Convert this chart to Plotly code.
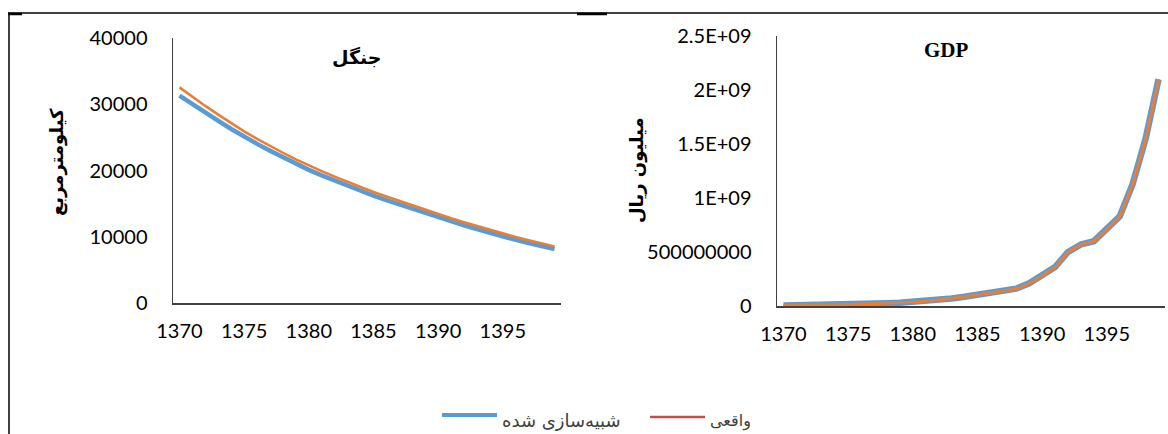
import plotly.graph_objects as go

# ---------------- data ----------------
years = list(range(1370, 1400))

forest_simulated = [31300, 29980, 28700, 27480, 26270, 25100, 24020, 22980, 21990, 21030,
                    20100, 19270, 18470, 17690, 16930, 16200, 15540, 14880, 14220, 13560,
                    12900, 12300, 11720, 11150, 10570, 10000, 9520, 9050, 8590, 8150]
forest_actual = [32550, 31130, 29750, 28440, 27150, 25910, 24780, 23700, 22680, 21690,
                 20740, 19890, 19070, 18280, 17500, 16760, 16070, 15400, 14750, 14070,
                 13400, 12790, 12200, 11620, 11030, 10450, 9960, 9480, 9010, 8550]

gdp_simulated = [4e6, 5e6, 7e6, 9e6, 1.2e7, 1.5e7, 1.8e7, 2.1e7, 2.5e7, 3.0e7,
                 3.7e7, 4.5e7, 5.8e7, 7.0e7, 8.5e7, 1.05e8, 1.25e8, 1.45e8, 1.6e8, 2.1e8,
                 2.8e8, 3.6e8, 5.0e8, 5.7e8, 6.0e8, 7.1e8, 8.3e8, 1.13e9, 1.55e9, 2.1e9]
gdp_actual = [4e6, 5e6, 7e6, 9e6, 1.2e7, 1.5e7, 1.8e7, 2.1e7, 2.5e7, 3.0e7,
              3.7e7, 4.5e7, 5.8e7, 7.0e7, 8.5e7, 1.05e8, 1.25e8, 1.45e8, 1.6e8, 2.1e8,
              2.8e8, 3.6e8, 5.0e8, 5.7e8, 6.0e8, 7.1e8, 8.3e8, 1.13e9, 1.55e9, 2.1e9]

x_tickvals = [1370, 1375, 1380, 1385, 1390, 1395]
forest_tickvals = [0, 10000, 20000, 30000, 40000]
forest_ticktext = ["0", "10000", "20000", "30000", "40000"]
gdp_tickvals = [0, 5e8, 1e9, 1.5e9, 2e9, 2.5e9]
gdp_ticktext = ["0", "500000000", "1E+09", "1.5E+09", "2E+09", "2.5E+09"]

title_forest = "جنگل"
title_gdp = "GDP"
ytitle_forest = "کیلومترمربع"
ytitle_gdp = "میلیون ریال"
name_sim = "شبیه\u200cسازی شده"
name_act = "واقعی"

# ---------------- style ----------------
W, H = 1168, 434
BLUE = "#5b9bd5"
ORANGE = "#ed7d31"
RED = "#c0504d"
TICKFONT = dict(family="Lato, Calibri, sans-serif", size=20, color="#000000")
FA_FONT = "DejaVu Sans"


def px(x):
    return x / W


def py(y):
    return 1 - y / H


fig = go.Figure()

# left chart traces
fig.add_trace(go.Scatter(x=years, y=forest_simulated, mode="lines", name=name_sim,
                         line=dict(color=BLUE, width=4.5), xaxis="x", yaxis="y",
                         showlegend=False))
fig.add_trace(go.Scatter(x=years, y=forest_actual, mode="lines", name=name_act,
                         line=dict(color=ORANGE, width=2.5), xaxis="x", yaxis="y",
                         showlegend=False))
# right chart traces
fig.add_trace(go.Scatter(x=years, y=gdp_simulated, mode="lines", name=name_sim,
                         line=dict(color=BLUE, width=6.5), xaxis="x2", yaxis="y2",
                         showlegend=False))
fig.add_trace(go.Scatter(x=years, y=gdp_actual, mode="lines", name=name_act,
                         line=dict(color=ORANGE, width=3), xaxis="x2", yaxis="y2",
                         showlegend=False))

axis_common = dict(showgrid=False, zeroline=False, showline=True, linecolor="#404040",
                   linewidth=1.5, ticks="outside", tickcolor="rgba(0,0,0,0)",
                   tickfont=TICKFONT, fixedrange=True, automargin=False)

fig.update_layout(
    width=W, height=H, autosize=False,
    margin=dict(l=0, r=0, t=0, b=0, pad=0),
    paper_bgcolor="white", plot_bgcolor="white",
    showlegend=False,
    xaxis=dict(domain=[px(173), px(561)], range=[1369.5, 1399.5], tickvals=x_tickvals,
               ticklen=9, anchor="y", **axis_common),
    yaxis=dict(domain=[py(303), py(38)], range=[0, 40000], tickvals=forest_tickvals,
               ticktext=forest_ticktext, ticklen=20, anchor="x", **axis_common),
    xaxis2=dict(domain=[px(777), px(1165)], range=[1369.5, 1399.5], tickvals=x_tickvals,
                ticklen=9, anchor="y2", **axis_common),
    yaxis2=dict(domain=[py(306), py(36)], range=[0, 2.5e9], tickvals=gdp_tickvals,
                ticktext=gdp_ticktext, ticklen=20, anchor="x2", **axis_common),
)


def note(text, x, y, font, angle=0, xanchor="center"):
    return dict(text=text, x=px(x), y=py(y), xref="paper", yref="paper",
                xanchor=xanchor, yanchor="middle", showarrow=False,
                textangle=angle, font=font)


annotations = [
    note("<b>" + title_forest + "</b>", 357, 57, dict(family=FA_FONT, size=19, color="#000")),
    note("<b>" + title_gdp + "</b>", 946, 50,
         dict(family="Liberation Serif, Times New Roman, serif", size=21, color="#000")),
    note("<b>" + ytitle_forest + "</b>", 57, 162, dict(family=FA_FONT, size=18, color="#000"), angle=-90),
    note("<b>" + ytitle_gdp + "</b>", 637, 170, dict(family=FA_FONT, size=18, color="#000"), angle=-90),
    # legend texts
    note(name_sim, 500, 420, dict(family=FA_FONT, size=18, color="#404040"), xanchor="left"),
    note(name_act, 708, 421, dict(family=FA_FONT, size=16, color="#404040"), xanchor="left"),
]

shapes = [
    # legend keys
    dict(type="line", xref="paper", yref="paper", x0=px(442), x1=px(497), y0=py(415), y1=py(415),
         line=dict(color=BLUE, width=4)),
    dict(type="line", xref="paper", yref="paper", x0=px(650), x1=px(705), y0=py(417), y1=py(417),
         line=dict(color=RED, width=2.5)),
    # outer frame
    dict(type="line", xref="paper", yref="paper", x0=px(8), x1=px(1168), y0=py(13), y1=py(13),
         line=dict(color="#000", width=1.5)),
    dict(type="line", xref="paper", yref="paper", x0=px(9), x1=px(9), y0=py(13), y1=py(434),
         line=dict(color="#000", width=1.5)),
    dict(type="line", xref="paper", yref="paper", x0=px(577), x1=px(607), y0=py(14), y1=py(14),
         line=dict(color="#000", width=2.5)),
    dict(type="line", xref="paper", yref="paper", x0=px(8), x1=px(22), y0=py(14), y1=py(14),
         line=dict(color="#000", width=2.5)),
]

fig.update_layout(annotations=annotations, shapes=shapes)

fig.write_html("out.html", config={"displayModeBar": False, "staticPlot": True},
               post_script="document.body.style.margin='0';")
